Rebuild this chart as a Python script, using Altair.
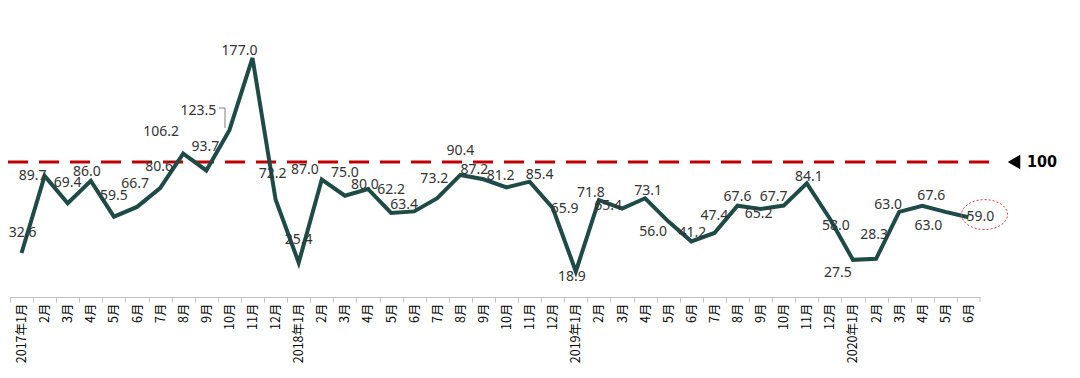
import json
import altair as alt
import pandas as pd

# ---------------- data ----------------
MONTH_KEYS = [
    "2017-01", "2017-02", "2017-03", "2017-04", "2017-05", "2017-06",
    "2017-07", "2017-08", "2017-09", "2017-10", "2017-11", "2017-12",
    "2018-01", "2018-02", "2018-03", "2018-04", "2018-05", "2018-06",
    "2018-07", "2018-08", "2018-09", "2018-10", "2018-11", "2018-12",
    "2019-01", "2019-02", "2019-03", "2019-04", "2019-05", "2019-06",
    "2019-07", "2019-08", "2019-09", "2019-10", "2019-11", "2019-12",
    "2020-01", "2020-02", "2020-03", "2020-04", "2020-05", "2020-06",
]
TICK_LABELS = [
    "2017年1月", "2月", "3月", "4月", "5月", "6月", "7月", "8月", "9月", "10月", "11月", "12月",
    "2018年1月", "2月", "3月", "4月", "5月", "6月", "7月", "8月", "9月", "10月", "11月", "12月",
    "2019年1月", "2月", "3月", "4月", "5月", "6月", "7月", "8月", "9月", "10月", "11月", "12月",
    "2020年1月", "2月", "3月", "4月", "5月", "6月",
]
VALUES = [
    32.6, 89.7, 69.4, 86.0, 59.5, 66.7, 80.6, 106.2, 93.7, 123.5, 177.0, 72.2,
    25.4, 87.0, 75.0, 80.0, 62.2, 63.4, 73.2, 90.4, 87.2, 81.2, 85.4, 65.9,
    18.9, 71.8, 65.4, 73.1, 56.0, 41.2, 47.4, 67.6, 65.2, 67.7, 84.1, 58.0,
    27.5, 28.3, 63.0, 67.6, 63.0, 59.0,
]
REFERENCE_LEVEL = [100]

# label placement (pixel offsets of each value label from its point) - style only
LABEL_OFFSETS = [
    (1, -20), (-12, 0), (0, -20), (-4, -9), (0, -21), (-2, -23), (-1, -21), (-22, -22),
    (-1, -23), (-31, -19), (-13, -7), (-3, -25),
    (0, -23), (-17, -10), (0, -23), (-3, -4), (0, -23), (-10, -6), (-3, -19), (0, -24),
    (-9, -9), (-6, -11), (10, -7), (12, 1),
    (-4, 6), (-8, -7), (-14, -3), (3, -7), (-15, 11), (1, -8), (0, -17), (0, -9),
    (-2, 5), (-10, -9), (2, -6), (6, 7),
    (-15, 13), (-2, -24), (-11, -7), (9, -10), (-17, 14), (12, 0),
]

df = pd.DataFrame({"key": MONTH_KEYS, "value": VALUES, "i": list(range(len(VALUES)))})
ref_df = pd.DataFrame({"level": REFERENCE_LEVEL, "label": [str(v) for v in REFERENCE_LEVEL]})

W, H = 970, 289
STEP = W / len(MONTH_KEYS)
Y_DOMAIN = [0, 214]

label_expr = f"{json.dumps(TICK_LABELS, ensure_ascii=False)}[indexof({json.dumps(MONTH_KEYS)}, datum.value)]"

x_enc = alt.X(
    "key:N",
    sort=MONTH_KEYS,
    scale=alt.Scale(type="point", padding=0.5),
    axis=alt.Axis(
        title=None,
        labelExpr=label_expr,
        labelAngle=270,
        labelFont="Noto Sans CJK SC",
        labelFontSize=12.5,
        labelColor="#000000",
        labelPadding=1,
        labelOverlap=False,
        domainColor="#bfbfbf",
        domainWidth=1,
        tickColor="#bfbfbf",
        tickSize=5,
        tickOffset=-STEP / 2,
        labelOffset=STEP / 2,
        grid=False,
    ),
)
y_enc = alt.Y("value:Q", scale=alt.Scale(domain=Y_DOMAIN), axis=None)
y_ref = alt.Y("level:Q", scale=alt.Scale(domain=Y_DOMAIN), axis=None)

base = alt.Chart(df).encode(x=x_enc, y=y_enc)

ref_rule = alt.Chart(ref_df).mark_rule(
    color="#c00000", strokeWidth=3, strokeDash=[20, 11]
).encode(y=y_ref, x=alt.value(-2), x2=alt.value(985))

ref_arrow = alt.Chart(ref_df).mark_point(
    shape="triangle-left", filled=True, color="#000000", size=210, opacity=1
).encode(y=y_ref, x=alt.value(1004))

ref_text = alt.Chart(ref_df).mark_text(
    align="left", baseline="middle",
    font="'Liberation Sans Narrow', 'DejaVu Sans Condensed', 'DejaVu Sans', sans-serif",
    fontWeight="bold", fontSize=16, color="#000000"
).encode(y=y_ref, x=alt.value(1017), text="label:N")

end_tick = alt.Chart(ref_df).mark_rule(color="#bfbfbf", strokeWidth=1).encode(
    x=alt.value(W), y=alt.value(H), y2=alt.value(H + 5)
)

line = base.mark_line(color="#1f4b47", strokeWidth=4, strokeJoin="miter")

# value labels grouped by their offset
groups = {}
for idx, off in enumerate(LABEL_OFFSETS):
    groups.setdefault(off, []).append(idx)
label_layers = []
for (dx, dy), idxs in groups.items():
    label_layers.append(
        base.transform_filter(alt.FieldOneOfPredicate(field="i", oneOf=idxs))
        .mark_text(dx=dx, dy=dy, font="Noto Sans", fontSize=14, color="#333333",
                   align="center", baseline="middle")
        .encode(text=alt.Text("value:Q", format=".1f"))
    )

# leader line for the 123.5 label
leader_h = alt.Chart(ref_df).mark_rule(color="#7f7f7f", strokeWidth=1).encode(
    x=alt.value(209), x2=alt.value(215), y=alt.value(100)
)
leader_v = alt.Chart(ref_df).mark_rule(color="#7f7f7f", strokeWidth=1).encode(
    x=alt.value(215), y=alt.value(100), y2=alt.value(120)
)

# dotted ellipse around the latest value
ellipse_path = "M -0.30 -0.12 A 1 0.65 0 1 0 1.70 -0.12 A 1 0.65 0 1 0 -0.30 -0.12 Z"
ellipse = base.transform_filter(alt.datum.i == len(VALUES) - 1).mark_point(
    shape=ellipse_path, size=2116, filled=False, color="#e03c3c",
    strokeWidth=1, strokeDash=[2, 2], opacity=1
)

chart = alt.layer(
    ref_rule, end_tick, line, *label_layers, leader_h, leader_v, ellipse,
    ref_arrow, ref_text,
).properties(
    width=W, height=H,
    background="#ffffff",
    autosize=alt.AutoSizeParams(type="none"),
    padding={"left": 2, "top": 0, "right": 80, "bottom": 66},
).configure_view(strokeWidth=0, stroke="transparent")

chart.save("out.html", embed_options={"renderer": "svg", "actions": False})
